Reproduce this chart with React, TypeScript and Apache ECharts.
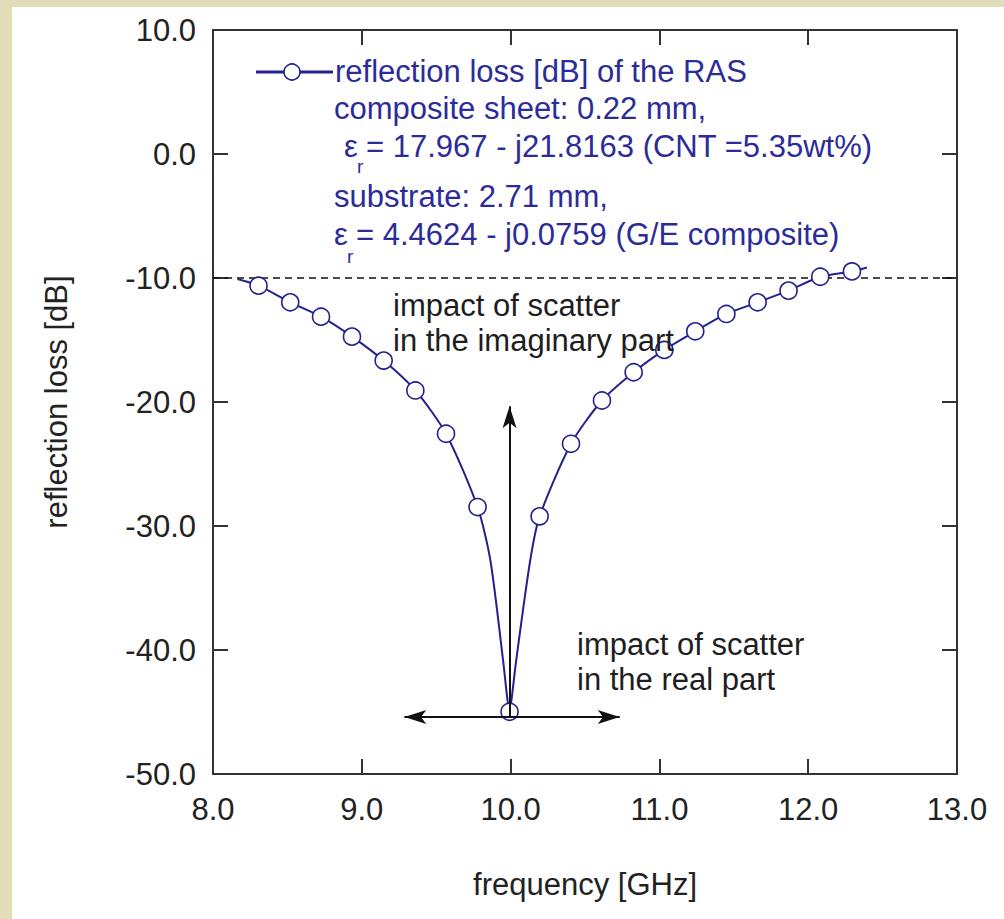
import React, { useEffect, useRef } from "react";
import * as echarts from "echarts";

const FONT = '"Liberation Sans", Arial, Helvetica, sans-serif';
const NAVY = "#22228c";
const BLUE_TEXT = "#2c2c98";
const INK = "#1e1e1e";

// axis ranges / tick values
const xTickValues = [8, 9, 10, 11, 12, 13];
const yTickValues = [-50, -40, -30, -20, -10, 0, 10];

// measured points (markers)
const markerFreq = [8.306, 8.519, 8.726, 8.934, 9.147, 9.36, 9.566, 9.778, 9.993, 10.195, 10.406, 10.614, 10.827, 11.033, 11.241, 11.45, 11.66, 11.868, 12.081, 12.294];
const markerDb = [-10.62, -11.96, -13.12, -14.73, -16.66, -19.07, -22.56, -28.47, -44.98, -29.22, -23.37, -19.88, -17.6, -15.8, -14.3, -12.9, -11.96, -11.02, -9.9, -9.47];

// calculated curve, left branch
const leftCurveFreq = [8.165, 8.306, 8.519, 8.726, 8.934, 9.147, 9.36, 9.566, 9.778, 9.864, 9.949, 9.979, 9.993];
const leftCurveDb = [-10.08, -10.62, -11.96, -13.12, -14.73, -16.66, -19.07, -22.56, -28.47, -32.76, -40.8, -44.03, -44.98];

// calculated curve, right branch
const rightCurveFreq = [9.993, 10.006, 10.038, 10.132, 10.195, 10.406, 10.614, 10.827, 11.033, 11.241, 11.45, 11.66, 11.868, 12.081, 12.294, 12.395];
const rightCurveDb = [-44.98, -44.03, -40.8, -32.76, -29.22, -23.37, -19.88, -17.6, -15.8, -14.3, -12.9, -11.96, -11.02, -9.9, -9.47, -9.15];

// -10 dB reference line
const thresholdDb = -10;

// arrows (data coordinates)
const imagArrowFreq = [9.993, 9.993];
const imagArrowDb = [-45.4, -20.35];
const realArrowFreq = [9.286, 10.733];
const realArrowDb = [-45.4, -45.4];

const legendLines = [
  "reflection loss [dB] of the RAS",
  "composite sheet: 0.22 mm,",
  "= 17.967 - j21.8163 (CNT =5.35wt%)",
  "substrate: 2.71 mm,",
  "= 4.4624 - j0.0759 (G/E composite)",
];
const imagNote = ["impact of scatter", "in the imaginary part"];
const realNote = ["impact of scatter", "in the real part"];

const zip = (a: number[], b: number[]) => a.map((v, i) => [v, b[i]]);

export default function App() {
  const ref = useRef<HTMLDivElement>(null);

  useEffect(() => {
    if (!ref.current) return;
    const chart = echarts.init(ref.current, undefined, { renderer: "svg" });

    const axisLine = { show: true, onZero: false, lineStyle: { color: "#333", width: 2 } };
    const axisTick = { show: true, inside: true, length: 15, lineStyle: { color: "#333", width: 2 } };
    const labelStyle = { fontFamily: FONT, fontSize: 31, color: "#222" };
    const fmt = (v: number) => v.toFixed(1);
    const xMin = xTickValues[0];
    const xMax = xTickValues[xTickValues.length - 1];
    const yMin = yTickValues[0];
    const yMax = yTickValues[yTickValues.length - 1];

    const txt = (text: string, x: number, y: number, color: string, size = 31) => ({
      type: "text",
      x,
      y,
      z: 50,
      style: { text, fill: color, font: `${size}px ${FONT}`, textVerticalAlign: "middle", verticalAlign: "middle" },
    });

    const curveLine = {
      type: "line",
      showSymbol: false,
      smooth: 0.25,
      lineStyle: { color: NAVY, width: 2 },
      z: 3,
    };

    const option: any = {
      animation: false,
      backgroundColor: "#ffffff",
      grid: { left: 213, right: 47, top: 30, bottom: 145, containLabel: false },
      xAxis: [
        {
          type: "value",
          min: xMin,
          max: xMax,
          interval: 1,
          position: "bottom",
          axisLine,
          axisTick,
          splitLine: { show: false },
          axisLabel: { ...labelStyle, margin: 20, formatter: fmt },
          name: "frequency [GHz]",
          nameLocation: "middle",
          nameGap: 95,
          nameTextStyle: { fontFamily: FONT, fontSize: 31, color: "#222" },
        },
        {
          type: "value",
          min: xMin,
          max: xMax,
          interval: 1,
          position: "top",
          axisLine,
          axisTick,
          splitLine: { show: false },
          axisLabel: { show: false },
        },
      ],
      yAxis: [
        {
          type: "value",
          min: yMin,
          max: yMax,
          interval: 10,
          position: "left",
          axisLine,
          axisTick,
          splitLine: { show: false },
          axisLabel: { ...labelStyle, margin: 17, formatter: fmt },
          name: "reflection loss [dB]",
          nameLocation: "middle",
          nameGap: 141,
          nameTextStyle: { fontFamily: FONT, fontSize: 31, color: "#222" },
        },
        {
          type: "value",
          min: yMin,
          max: yMax,
          interval: 10,
          position: "right",
          axisLine,
          axisTick,
          splitLine: { show: false },
          axisLabel: { show: false },
        },
      ],
      series: [
        {
          name: "threshold",
          type: "line",
          data: [
            [xMin, thresholdDb],
            [xMax, thresholdDb],
          ],
          showSymbol: false,
          lineStyle: { color: "#111", width: 1.5, type: [7, 5] },
          z: 2,
          silent: true,
        },
        { ...curveLine, name: "curveLeft", data: zip(leftCurveFreq, leftCurveDb) },
        { ...curveLine, name: "curveRight", data: zip(rightCurveFreq, rightCurveDb) },
        {
          name: "reflection loss [dB] of the RAS",
          type: "scatter",
          data: zip(markerFreq, markerDb),
          symbol: "circle",
          symbolSize: 17,
          itemStyle: { color: "#ffffff", borderColor: NAVY, borderWidth: 1.6, opacity: 1 },
          emphasis: { disabled: true },
          z: 4,
        },
        {
          name: "arrows",
          type: "line",
          data: [],
          z: 5,
          markLine: {
            silent: true,
            animation: false,
            label: { show: false },
            lineStyle: { color: "#111", width: 2, type: "solid" },
            data: [
              [
                { coord: [imagArrowFreq[0], imagArrowDb[0]], symbol: "none" },
                { coord: [imagArrowFreq[1], imagArrowDb[1]], symbol: "arrow", symbolSize: [10.5, 22] },
              ],
              [
                { coord: [realArrowFreq[0], realArrowDb[0]], symbol: "arrow", symbolSize: [10.5, 22] },
                { coord: [realArrowFreq[1], realArrowDb[1]], symbol: "arrow", symbolSize: [10.5, 22] },
              ],
            ],
          },
        },
      ],
      graphic: [
        { type: "rect", shape: { x: 0, y: 0, width: 12, height: 919 }, style: { fill: "#e3dcb9" }, z: 0 },
        { type: "rect", shape: { x: 0, y: 0, width: 1004, height: 7 }, style: { fill: "#e3dcb9" }, z: 0 },
        // legend symbol
        { type: "line", shape: { x1: 256, y1: 72, x2: 333, y2: 72 }, style: { stroke: NAVY, lineWidth: 3 }, z: 50 },
        { type: "circle", shape: { cx: 292, cy: 72, r: 8 }, style: { fill: "#fff", stroke: NAVY, lineWidth: 1.6 }, z: 51 },
        txt(legendLines[0], 335, 71, BLUE_TEXT),
        txt(legendLines[1], 334, 108, BLUE_TEXT),
        txt("\u03b5", 344, 146, BLUE_TEXT),
        txt("r", 357, 166, BLUE_TEXT, 19),
        txt(legendLines[2], 366, 146, BLUE_TEXT),
        txt(legendLines[3], 334, 196, BLUE_TEXT),
        txt("\u03b5", 334, 234, BLUE_TEXT),
        txt("r", 347, 256, BLUE_TEXT, 19),
        txt(legendLines[4], 356, 234, BLUE_TEXT),
        // annotations
        txt(imagNote[0], 393, 305, INK),
        txt(imagNote[1], 393, 340, INK),
        txt(realNote[0], 577, 644, INK),
        txt(realNote[1], 577, 679, INK),
      ],
    };

    chart.setOption(option);
    return () => chart.dispose();
  }, []);

  return <div ref={ref} style={{ position: "absolute", left: 0, top: 0, width: 1004, height: 919 }} />;
}
